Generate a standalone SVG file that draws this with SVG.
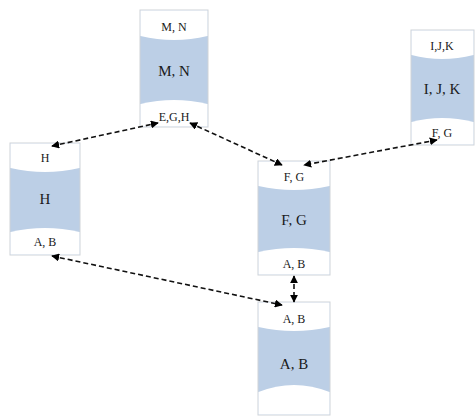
<svg xmlns="http://www.w3.org/2000/svg" width="475" height="417" viewBox="0 0 475 417">
<defs>
<style>
.box{fill:#bccfe6;stroke:#cfd3d8;stroke-width:1}
.band{fill:#ffffff;stroke:none}
.t{font-family:"Liberation Serif",serif;fill:#1a1a1a;text-anchor:middle}
.s{font-size:12px}
.m{font-size:15px}
.c{fill:none;stroke:#111;stroke-width:1.6;stroke-dasharray:5,3}
</style>
<marker id="ah" viewBox="0 0 10 10" refX="9" refY="5" markerWidth="5" markerHeight="5" orient="auto-start-reverse">
<path d="M0,0 L10,5 L0,10 z" fill="#000"/>
</marker>
</defs>
<rect width="475" height="417" fill="#fff"/>

<g id="node-MN">
<rect class="box" x="140" y="10" width="68" height="117"/>
<path class="band" d="M140.5,10.5 H207.5 V36 Q174,44 140.5,36 Z"/>
<path class="band" d="M140.5,126.5 H207.5 V104 Q174,96 140.5,104 Z"/>
<text class="t s" x="174" y="31">M, N</text>
<text class="t m" x="174" y="76">M, N</text>
<text class="t s" x="174" y="121">E,G,H</text>
</g>

<g id="node-IJK">
<rect class="box" x="411" y="30" width="63" height="115"/>
<path class="band" d="M411.5,30.5 H473.5 V55 Q442,63 411.5,55 Z"/>
<path class="band" d="M411.5,144.5 H473.5 V122 Q442,114 411.5,122 Z"/>
<text class="t s" x="442" y="50">I,J,K</text>
<text class="t m" x="442" y="94">I, J, K</text>
<text class="t s" x="442" y="137">F, G</text>
</g>

<g id="node-H">
<rect class="box" x="10" y="143" width="70" height="112"/>
<path class="band" d="M10.5,143.5 H79.5 V168 Q45,176 10.5,168 Z"/>
<path class="band" d="M10.5,254.5 H79.5 V232 Q45,224 10.5,232 Z"/>
<text class="t s" x="45" y="162">H</text>
<text class="t m" x="45" y="204">H</text>
<text class="t s" x="45" y="246">A, B</text>
</g>

<g id="node-FG">
<rect class="box" x="258" y="161" width="72" height="114"/>
<path class="band" d="M258.5,161.5 H329.5 V186 Q294,194 258.5,186 Z"/>
<path class="band" d="M258.5,274.5 H329.5 V252 Q294,244 258.5,252 Z"/>
<text class="t s" x="294" y="181">F, G</text>
<text class="t m" x="294" y="225">F, G</text>
<text class="t s" x="294" y="268">A, B</text>
</g>

<g id="node-AB">
<rect class="box" x="258" y="302" width="72" height="113"/>
<path class="band" d="M258.5,302.5 H329.5 V327 Q294,335 258.5,327 Z"/>
<path class="band" d="M258.5,414.5 H329.5 V392 Q294,378 258.5,392 Z"/>
<text class="t s" x="294" y="323">A, B</text>
<text class="t m" x="294" y="369">A, B</text>
</g>

<g id="connectors">
<path class="c" d="M52,146 L158,123" marker-start="url(#ah)" marker-end="url(#ah)"/>
<path class="c" d="M190,123 L282,165" marker-start="url(#ah)" marker-end="url(#ah)"/>
<path class="c" d="M437,140 L304,165" marker-start="url(#ah)" marker-end="url(#ah)"/>
<path class="c" d="M52,256 L282,305" marker-start="url(#ah)" marker-end="url(#ah)"/>
<path class="c" d="M294,276 L294,302" marker-start="url(#ah)" marker-end="url(#ah)"/>
</g>
</svg>
